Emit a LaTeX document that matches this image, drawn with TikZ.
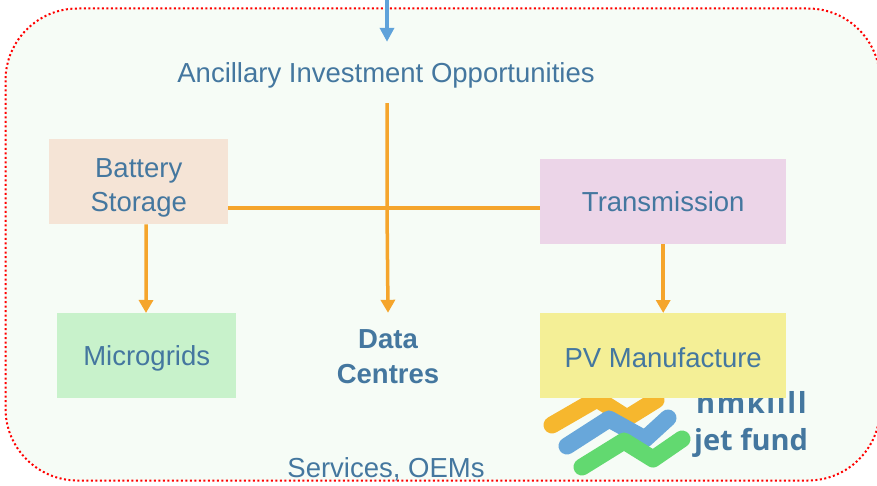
\documentclass[tikz,border=0pt]{standalone}
\usepackage{fontspec}
\setmainfont{Liberation Sans}
\newfontfamily\logofont{Open Sans}
\newfontfamily\logofontwide[LetterSpace=5.5]{Open Sans}
\usetikzlibrary{arrows.meta}
\definecolor{txt}{HTML}{44779F}
\definecolor{panelfill}{HTML}{F6FCF6}
\definecolor{orangeline}{HTML}{F5A52C}
\definecolor{blueline}{HTML}{5FA2DA}
\definecolor{logoorange}{RGB}{246,183,46}
\definecolor{logoblue}{RGB}{104,167,218}
\definecolor{logogreen}{RGB}{98,217,112}
\tikzset{
  lbl/.style={text=txt,font=\fontsize{27.5}{33}\selectfont,align=center,inner sep=0pt},
  oneline/.style={text height=20pt,text depth=0pt},
  boxnode/.style={lbl,minimum height=85pt,anchor=north west},
  olink/.style={draw=orangeline,line width=3.5pt},
  oarrow/.style={olink,-{Triangle[width=14pt,length=13pt]}},
  barrow/.style={draw=blueline,line width=3.5pt,-{Triangle[width=14pt,length=14pt]}},
  logostroke/.style={line width=17pt,line cap=round,line join=round},
  logotext/.style={anchor=base west,inner sep=0pt,text=txt,font=\fontsize{29}{32}\selectfont}
}
\begin{document}
\begin{tikzpicture}[x=1pt,y=-1pt]
\useasboundingbox (0,0) rectangle (877,486);
\begin{scope}
\clip (0,0) rectangle (877,486);
\draw[fill=panelfill,draw=red,line width=2pt,dash pattern=on 2pt off 2.5pt,rounded corners=72pt]
  (5.5,8.5) rectangle (880,480.5);
\draw[logostroke,draw=logoorange] (552,425) -- (597,399) -- (627,418) -- (656,400);
\draw[logostroke,draw=logoblue] (567,446) -- (609,419) -- (645,439) -- (668,418);
\draw[logostroke,draw=logogreen] (582,467) -- (624,441) -- (653,459) -- (682,439);
\node[logotext] (logoa) at (696,413) {\logofontwide\bfseries hmkilll};
\node[logotext] (logob) at (694,450) {\logofont\bfseries jet fund};
\end{scope}
\node[boxnode,fill={rgb,255:red,245;green,228;blue,214},minimum width=179pt] (battery) at (49,139) {\rule{0pt}{31pt}Battery\\[1pt]Storage};
\node[boxnode,oneline,fill={rgb,255:red,236;green,213;blue,232},minimum width=246pt] (transmission) at (540,159) {Transmission};
\node[boxnode,oneline,fill={rgb,255:red,200;green,242;blue,203},minimum width=179pt] (microgrids) at (57,313) {Microgrids};
\node[boxnode,oneline,text height=23pt,fill={rgb,255:red,244;green,239;blue,150},minimum width=246pt] (pv) at (540,313) {PV Manufacture};
\node[lbl,oneline,minimum height=61pt] (title) at (386,72.5) {Ancillary Investment Opportunities};
\node[lbl,font=\bfseries\fontsize{27.5}{33}\selectfont,minimum height=88pt,minimum width=110pt] (data) at (388,357) {Data\\[2pt]Centres};
\node[lbl,anchor=base] (services) at (386,477) {Services, OEMs};
\coordinate (top) at (387,-2);
\coordinate (junction) at (387,208);
\draw[barrow] (top) -- (top |- title.north);
\draw[olink] (battery.east |- junction) -- (transmission.west |- junction);
\draw[oarrow] (title.south -| junction) -- (junction) -- (data.north);
\draw[oarrow] (battery.south -| microgrids.north) ++(-0.5,0) -- (146,313);
\draw[oarrow] (transmission.south) -- (pv.north);
\end{tikzpicture}
\end{document}
